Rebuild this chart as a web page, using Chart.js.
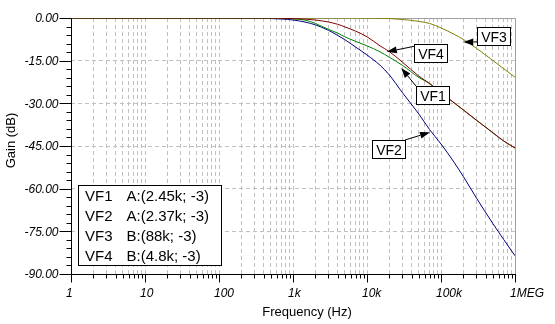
<!DOCTYPE html>
<html><head><meta charset="utf-8">
<script src="https://cdn.jsdelivr.net/npm/chart.js@4"></script>
<style>html,body{margin:0;padding:0;background:#fff;}canvas{display:block;}</style>
</head><body>
<canvas id="c" width="555" height="324"></canvas>
<script>
// ---- data ----
const freqs = [1, 10, 100, 300, 500, 700, 1000, 1500, 2000, 3000, 4000, 5000, 7000, 10000, 15000, 20000, 30000, 50000, 70000, 100000, 150000, 200000, 300000, 500000, 700000, 1000000];
const vf1 = [0, 0, 0, 0, -0.05, -0.1, -0.3, -0.8, -1.9, -4.0, -5.3, -6.6, -8.2, -9.8, -11.9, -13.8, -16.6, -20.9, -23.0, -26.3, -29.8, -32.3, -35.9, -40.3, -43.2, -45.7];
const vf2 = [0, 0, 0, -0.05, -0.2, -0.35, -0.7, -1.5, -2.4, -4.3, -6.1, -7.6, -10.2, -13.0, -16.6, -20.0, -26.2, -33.7, -39.2, -44.3, -50.7, -55.7, -63.2, -72.2, -77.8, -83.6];
const vf3 = [0, 0, 0, 0, 0, 0, 0, 0, 0, 0, 0, 0, 0, -0.05, -0.1, -0.2, -0.5, -1.2, -1.9, -3.5, -5.7, -7.5, -10.6, -14.9, -17.8, -20.8];
const vf4 = [0, 0, 0, 0, 0, -0.1, -0.2, -0.4, -0.7, -1.4, -2.2, -3.1, -4.6, -6.6, -9.8, -11.8, -15.5, -20.4, -23.0, -26.3, -29.8, -32.3, -35.9, -40.3, -43.2, -45.7];

const seriesNames = ['VF1', 'VF2', 'VF3', 'VF4'];
const cursorTexts = ['A:(2.45k; -3)', 'A:(2.37k; -3)', 'B:(88k; -3)', 'B:(4.8k; -3)'];

const xTickValues = [1, 10, 100, 1000, 10000, 100000, 1000000];
const xTickLabels = ['1', '10', '100', '1k', '10k', '100k', '1MEG'];
const yTickValues = [0, -15, -30, -45, -60, -75, -90];
const yTickLabels = ['0.00', '-15.00', '-30.00', '-45.00', '-60.00', '-75.00', '-90.00'];

// annotation callouts: label, arrow tip (freq, dB), box top-left (freq, dB)
const annLabels = ['VF3', 'VF4', 'VF1', 'VF2'];
const annTips = [[2.0e5, -8.4], [1.85e4, -11.9], [2.9e4, -17.6], [7.1e4, -40.2]];
const annBoxes = [[3.1e5, -3.2], [4.32e4, -9.1], [4.55e4, -23.8], [1.18e4, -43.0]];
const annTail = [[0, 0.83], [0, 0.13], [0, 0], [1, 0]];

// ---- build ----
const pts = arr => freqs.map((f, i) => ({x: f, y: arr[i]}));
const xGrid = [];
for (let e = 0; e < 6; e++) for (let s = 1; s <= 9; s++) xGrid.push(s * Math.pow(10, e));
xGrid.push(1e6);
const yMinor = [];
for (let v = 0; v >= -90; v -= 3) yMinor.push(v);

const FONT = '"Liberation Sans", Arial, sans-serif';

const overlay = {
  id: 'overlay',
  beforeDatasetsDraw(chart) {
    const {ctx, chartArea: a} = chart;
    ctx.save();
    ctx.setLineDash([]);
    ctx.strokeStyle = '#a0a0a0';
    ctx.lineWidth = 1;
    ctx.beginPath();
    ctx.moveTo(a.left, Math.round(a.top) + 0.5);
    ctx.lineTo(Math.round(a.right) + 0.5, Math.round(a.top) + 0.5);
    ctx.lineTo(Math.round(a.right) + 0.5, a.bottom);
    ctx.stroke();
    ctx.restore();
  },
  afterDatasetsDraw(chart) {
    const {ctx, chartArea: a, scales: {x, y}} = chart;
    const L = Math.round(a.left) + 0.5, B = Math.round(a.bottom) + 0.5;
    ctx.save();
    ctx.setLineDash([]);
    ctx.strokeStyle = '#000';
    ctx.fillStyle = '#000';
    ctx.lineWidth = 1;
    // axes
    ctx.beginPath();
    ctx.moveTo(L, Math.round(a.top));
    ctx.lineTo(L, B);
    ctx.lineTo(Math.round(a.right) + 1, B);
    ctx.stroke();
    // y ticks
    ctx.beginPath();
    yMinor.forEach(v => {
      const py = Math.round(y.getPixelForValue(v)) + 0.5;
      const len = (v % 15 === 0) ? 12 : 5;
      ctx.moveTo(L - len, py); ctx.lineTo(L, py);
    });
    // x ticks
    xGrid.forEach(v => {
      const px = Math.round(x.getPixelForValue(v)) + 0.5;
      const major = xTickValues.includes(v);
      ctx.moveTo(px, B); ctx.lineTo(px, B + (major ? 8 : 4));
    });
    ctx.stroke();
    // tick labels
    ctx.font = 'italic 12px ' + FONT;
    ctx.textBaseline = 'alphabetic';
    ctx.textAlign = 'right';
    yTickValues.forEach((v, i) => {
      ctx.fillText(yTickLabels[i], a.left - 12.5, y.getPixelForValue(v) + 4.3);
    });
    ctx.textAlign = 'left';
    xTickValues.forEach((v, i) => {
      ctx.fillText(xTickLabels[i], x.getPixelForValue(v) - 5, a.bottom + 23);
    });
    // axis titles
    ctx.font = '13px ' + FONT;
    ctx.textAlign = 'center';
    ctx.fillText('Frequency (Hz)', 307, 316);
    ctx.save();
    ctx.translate(11, 140.5);
    ctx.rotate(-Math.PI / 2);
    ctx.textBaseline = 'middle';
    ctx.fillText('Gain (dB)', 0, 0);
    ctx.restore();

    // callouts
    ctx.font = '14px ' + FONT;
    annLabels.forEach((lab, i) => {
      const bx = Math.round(x.getPixelForValue(annBoxes[i][0]));
      const by = Math.round(y.getPixelForValue(annBoxes[i][1]));
      const w = 33, h = 18;
      const tx = bx + annTail[i][0] * w, ty = by + annTail[i][1] * h;
      const px = x.getPixelForValue(annTips[i][0]), py = y.getPixelForValue(annTips[i][1]);
      const ang = Math.atan2(py - ty, px - tx);
      const al = 10, aw = 3.5;
      const baseX = px - al * Math.cos(ang), baseY = py - al * Math.sin(ang);
      ctx.beginPath();
      ctx.moveTo(tx, ty); ctx.lineTo(baseX, baseY);
      ctx.stroke();
      ctx.beginPath();
      ctx.moveTo(px, py);
      ctx.lineTo(baseX + aw * Math.sin(ang), baseY - aw * Math.cos(ang));
      ctx.lineTo(baseX - aw * Math.sin(ang), baseY + aw * Math.cos(ang));
      ctx.closePath();
      ctx.fill();
      ctx.fillStyle = '#fff';
      ctx.fillRect(bx, by, w, h);
      ctx.strokeRect(bx + 0.5, by + 0.5, w, h);
      ctx.fillStyle = '#000';
      ctx.textAlign = 'center';
      ctx.fillText(lab, bx + w / 2 + 0.5, by + 14.5);
    });

    // cursor legend box
    const lx = Math.round(a.left) + 7, ly = 185, lw = 143, lh = 80;
    ctx.fillStyle = '#fff';
    ctx.fillRect(lx, ly, lw, lh);
    ctx.strokeRect(lx + 0.5, ly + 0.5, lw, lh);
    ctx.fillStyle = '#000';
    ctx.font = '15px ' + FONT;
    ctx.textAlign = 'left';
    seriesNames.forEach((n, i) => {
      const by = ly + 15.7 + i * 20;
      ctx.fillText(n, lx + 7, by);
      ctx.fillText(cursorTexts[i], lx + 48.5, by);
    });
    ctx.restore();
  }
};

const gridOpts = {color: '#c0c0c0', lineWidth: 1, drawTicks: false};
new Chart(document.getElementById('c'), {
  type: 'line',
  data: {
    datasets: [
      {label: 'VF1', data: pts(vf1), borderColor: '#008000', order: 1},
      {label: 'VF2', data: pts(vf2), borderColor: '#000080', order: 3},
      {label: 'VF3', data: pts(vf3), borderColor: '#808000', order: 2},
      {label: 'VF4', data: pts(vf4), borderColor: '#800000', order: 0}
    ]
  },
  options: {
    responsive: false,
    animation: false,
    devicePixelRatio: 1,
    layout: {padding: {left: 71, right: 40, top: 18, bottom: 50}},
    plugins: {legend: {display: false}, tooltip: {enabled: false}},
    elements: {
      point: {radius: 0},
      line: {borderWidth: 1, cubicInterpolationMode: 'monotone', fill: false}
    },
    scales: {
      x: {
        type: 'logarithmic', min: 1, max: 1e6,
        afterBuildTicks: s => { s.ticks = xGrid.map(v => ({value: v})); },
        ticks: {display: false},
        grid: gridOpts,
        border: {display: false, dash: [4, 3]}
      },
      y: {
        type: 'linear', min: -90, max: 0,
        afterBuildTicks: s => { s.ticks = yTickValues.map(v => ({value: v})); },
        ticks: {display: false},
        grid: gridOpts,
        border: {display: false, dash: [4, 3]}
      }
    }
  },
  plugins: [overlay]
});
</script>
</body></html>
